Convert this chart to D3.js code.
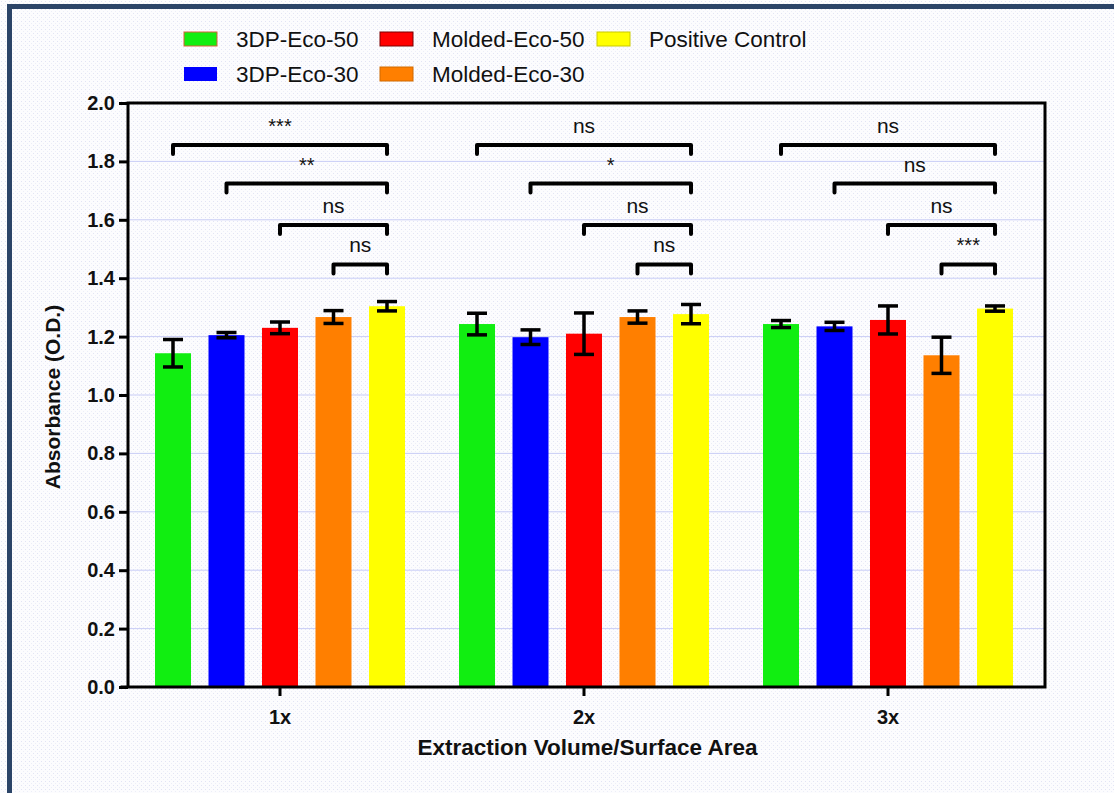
<!DOCTYPE html>
<html>
<head>
<meta charset="utf-8">
<script src="https://cdn.jsdelivr.net/npm/d3@7"></script>
<style>
  html, body { margin: 0; padding: 0; background: #ffffff; }
  svg { display: block; font-family: "Liberation Sans", Arial, Helvetica, sans-serif; }
</style>
</head>
<body>
<svg id="chart" width="1114" height="793"></svg>
<script>
// ---- Data ----
const groups = ["1x", "2x", "3x"];
const series = ["3DP-Eco-50", "3DP-Eco-30", "Molded-Eco-50", "Molded-Eco-30", "Positive Control"];
const colors = ["#11ee11", "#0000ff", "#ff0000", "#ff7f00", "#ffff00"];

// mean absorbance per series at 1x, 2x, 3x
const mean3DP50 = [1.143, 1.243, 1.243];
const mean3DP30 = [1.205, 1.198, 1.235];
const meanMolded50 = [1.230, 1.210, 1.257];
const meanMolded30 = [1.267, 1.267, 1.136];
const meanControl = [1.304, 1.277, 1.296];

// error (± half-range of the error bar)
const err3DP50 = [0.047, 0.037, 0.012];
const err3DP30 = [0.009, 0.025, 0.014];
const errMolded50 = [0.020, 0.071, 0.048];
const errMolded30 = [0.022, 0.021, 0.062];
const errControl = [0.016, 0.033, 0.009];

// significance vs. Positive Control, one label per compared series (3DP-Eco-50 .. Molded-Eco-30)
const sig1x = ["***", "**", "ns", "ns"];
const sig2x = ["ns", "*", "ns", "ns"];
const sig3x = ["ns", "ns", "ns", "***"];
// bracket heights (absorbance units) for the four comparisons
const bracketLevels = [1.856, 1.724, 1.582, 1.447];

const yTicks = [0.0, 0.2, 0.4, 0.6, 0.8, 1.0, 1.2, 1.4, 1.6, 1.8, 2.0];

const meanTable = [mean3DP50, mean3DP30, meanMolded50, meanMolded30, meanControl];
const errTable = [err3DP50, err3DP30, errMolded50, errMolded30, errControl];
const sigTable = [sig1x, sig2x, sig3x];

const records = [];
groups.forEach((g, gi) => {
  series.forEach((s, si) => {
    records.push({ group: g, series: s, color: colors[si], mean: meanTable[si][gi], err: errTable[si][gi] });
  });
});

// ---- Layout ----
const svg = d3.select("#chart");
const W = 1114, H = 793;
const plot = { left: 128, top: 103, right: 1045, bottom: 687 };

// background with a faint dotted texture
const defs = svg.append("defs");
const pat = defs.append("pattern").attr("id", "dots").attr("width", 4).attr("height", 4)
  .attr("patternUnits", "userSpaceOnUse");
pat.append("rect").attr("width", 4).attr("height", 4).attr("fill", "#fcfcfe");
pat.append("rect").attr("x", 1).attr("y", 1).attr("width", 1).attr("height", 1).attr("fill", "#e2e4f4");
pat.append("rect").attr("x", 3).attr("y", 3).attr("width", 1).attr("height", 1).attr("fill", "#eceef8");
svg.append("rect").attr("width", W).attr("height", H).attr("fill", "url(#dots)");

// dark frame on top and left
svg.append("rect").attr("x", 7).attr("y", 4).attr("width", W - 7).attr("height", 5).attr("fill", "#2b4468");
svg.append("rect").attr("x", 7).attr("y", 4).attr("width", 5).attr("height", H - 4).attr("fill", "#2b4468");

// ---- Scales ----
const y = d3.scaleLinear().domain([0, 2.0]).range([plot.bottom, plot.top]);
const x0 = d3.scaleBand().domain(groups).range([plot.left, plot.left + 912])
  .paddingInner(54 / 304).paddingOuter(27 / 304);
const x1 = d3.scaleBand().domain(series).range([0, x0.bandwidth()]).paddingInner(0.327).paddingOuter(0);

// gridlines
svg.append("g").selectAll("line").data(yTicks.filter(t => t > 0 && t < 2.0)).join("line")
  .attr("x1", plot.left).attr("x2", plot.right)
  .attr("y1", d => y(d)).attr("y2", d => y(d))
  .attr("stroke", "#c9cdf6").attr("stroke-width", 1);

// bars
const bars = svg.append("g");
bars.selectAll("rect").data(records).join("rect")
  .attr("x", d => x0(d.group) + x1(d.series))
  .attr("y", d => y(d.mean))
  .attr("width", x1.bandwidth())
  .attr("height", d => y(0) - y(d.mean))
  .attr("fill", d => d.color);

// error bars
const eb = svg.append("g").attr("stroke", "#000").attr("stroke-width", 3.5).attr("fill", "none");
records.forEach(d => {
  const cx = x0(d.group) + x1(d.series) + x1.bandwidth() / 2;
  const hi = y(d.mean + d.err), lo = y(d.mean - d.err);
  eb.append("line").attr("x1", cx).attr("x2", cx).attr("y1", hi).attr("y2", lo);
  eb.append("line").attr("x1", cx - 10).attr("x2", cx + 10).attr("y1", hi).attr("y2", hi);
  eb.append("line").attr("x1", cx - 10).attr("x2", cx + 10).attr("y1", lo).attr("y2", lo);
});

// significance brackets
const br = svg.append("g");
groups.forEach((g, gi) => {
  const xr = x0(g) + x1(series[4]) + x1.bandwidth() / 2;
  bracketLevels.forEach((lvl, i) => {
    const xl = x0(g) + x1(series[i]) + x1.bandwidth() / 2;
    const yy = y(lvl);
    br.append("path")
      .attr("d", `M${xl},${yy + 9}V${yy}H${xr}V${yy + 9}`)
      .attr("fill", "none").attr("stroke", "#000").attr("stroke-width", 4)
      .attr("stroke-linejoin", "round").attr("stroke-linecap", "round");
    const lab = sigTable[gi][i];
    br.append("text")
      .attr("x", (xl + xr) / 2).attr("y", yy - 12)
      .attr("text-anchor", "middle")
      .attr("font-size", lab === "ns" ? 21 : 20)
      .attr("fill", "#111")
      .text(lab);
  });
});

// ---- Axes ----
const yAxis = d3.axisLeft(y).tickValues(yTicks).tickFormat(d3.format(".1f")).tickSize(9).tickPadding(4);
const gy = svg.append("g").attr("transform", `translate(${plot.left},0)`).call(yAxis);
gy.select(".domain").remove();
gy.selectAll(".tick line").attr("stroke", "#000").attr("stroke-width", 3);
gy.selectAll(".tick text").attr("font-size", 20).attr("font-weight", "bold").attr("fill", "#111")
  .attr("font-family", "'Liberation Sans', Arial, sans-serif");

const xAxis = d3.axisBottom(x0).tickSize(9).tickPadding(14);
const gx = svg.append("g").attr("transform", `translate(0,${plot.bottom})`).call(xAxis);
gx.select(".domain").remove();
gx.selectAll(".tick line").attr("stroke", "#000").attr("stroke-width", 3);
gx.selectAll(".tick text").attr("font-size", 20).attr("font-weight", "bold").attr("fill", "#111")
  .attr("font-family", "'Liberation Sans', Arial, sans-serif");

// plot frame
svg.append("path")
  .attr("d", `M${plot.left},${plot.bottom}V${plot.top}H${plot.right}V${plot.bottom}H${plot.left - 6}`)
  .attr("fill", "none").attr("stroke", "#000").attr("stroke-width", 3).attr("stroke-linecap", "square");

// axis titles
svg.append("text")
  .attr("x", (plot.left + plot.right) / 2 + 1).attr("y", 755)
  .attr("text-anchor", "middle").attr("font-size", 22.5).attr("font-weight", "bold").attr("fill", "#111")
  .text("Extraction Volume/Surface Area");
svg.append("text")
  .attr("transform", `translate(60,${(plot.top + plot.bottom) / 2 + 2}) rotate(-90)`)
  .attr("text-anchor", "middle").attr("font-size", 21).attr("font-weight", "bold").attr("fill", "#111")
  .text("Absorbance (O.D.)");

// ---- Legend (two rows, filled column by column) ----
const legendCols = [184, 380, 597];
const legendRows = [39, 74];
const swatchStroke = ["#d9603a", "none", "#7a0000", "#d06a00", "#c9c900"];
const lg = svg.append("g");
series.forEach((s, i) => {
  const cx = legendCols[Math.floor(i / 2)];
  const cy = legendRows[i % 2];
  lg.append("rect").attr("x", cx).attr("y", cy - 7).attr("width", 33).attr("height", 14)
    .attr("fill", colors[i]).attr("stroke", swatchStroke[i]).attr("stroke-width", 1);
  lg.append("text").attr("x", cx + 52).attr("y", cy + 8)
    .attr("font-size", 22.5).attr("fill", "#111").text(s);
});
</script>
</body>
</html>
